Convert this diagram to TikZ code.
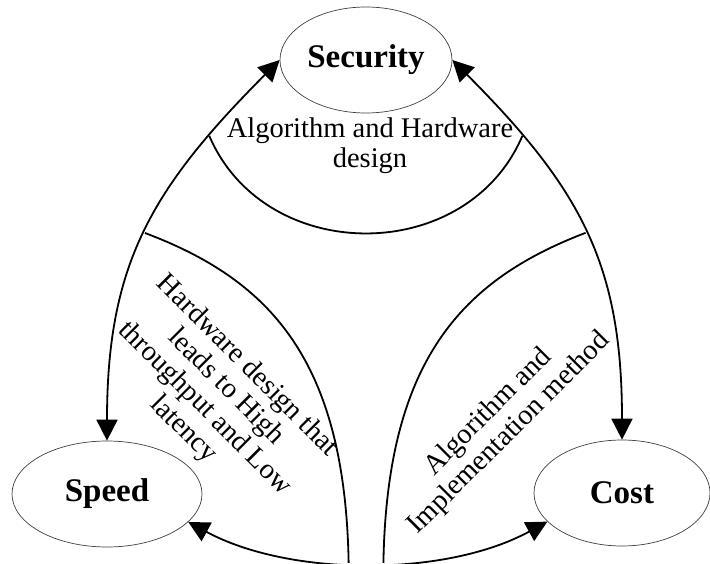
\documentclass[tikz,border=0pt]{standalone}
\usepackage{fontspec}
\setmainfont{Liberation Serif}
\usetikzlibrary{arrows.meta,shapes.geometric}
\begin{document}
\begin{tikzpicture}[x=1pt,y=-1pt,
  goal/.style={ellipse, draw=black!75, line width=0.7pt, fill=white, inner sep=0pt,
    minimum height=106pt, font=\fontsize{33}{37}\selectfont\bfseries},
  both/.style={line width=1.8pt,
    {Triangle[length=21pt,width=21pt]}-{Triangle[length=21pt,width=21pt]}},
  divider/.style={line width=1.8pt},
  note/.style={align=center, inner sep=0pt, font=\fontsize{28.5}{30}\selectfont}]
\useasboundingbox (0,0) rectangle (710,564);

% the three goals
\node[goal, minimum width=172pt] (sec) at (366,60) {Security};
\node[goal, minimum width=190pt] (spd) at (107,494) {Speed};
\node[goal, minimum width=176pt] (cst) at (622,493) {Cost};

% outer trade-off arrows
\draw[both] (spd.north) .. controls (107,265) and (150.6,189.4) .. (sec.west)
  coordinate[pos=0.5] (jL2) coordinate[pos=0.79] (jL1);
\draw[both] (sec.east) .. controls (581.4,189.4) and (622,265) .. (cst.north)
  coordinate[pos=0.21] (jR1) coordinate[pos=0.5] (jR2);
\draw[both] (spd.-19) .. controls (290,577) and (446,577) .. (cst.-159)
  coordinate[pos=0.45] (bL) coordinate[pos=0.54] (bR);

% inner region boundaries
\draw[divider] (jL1) .. controls (265,266) and (467,266) .. (jR1);
\draw[divider] (jL2) .. controls (270,280) and (345,360) .. (bL);
\draw[divider] (jR2) .. controls (462,280) and (387,360) .. (bR);

% region labels
\node[note] (top) at (370,146) {Algorithm and Hardware\\design};
\node[note, rotate=-45] (lft) at (215,398)
  {Hardware design that\\leads to High\\throughput and Low\\latency};
\node[note, rotate=45] (rgt) at (499,423) {Algorithm and\\Implementation method};
\end{tikzpicture}
\end{document}
